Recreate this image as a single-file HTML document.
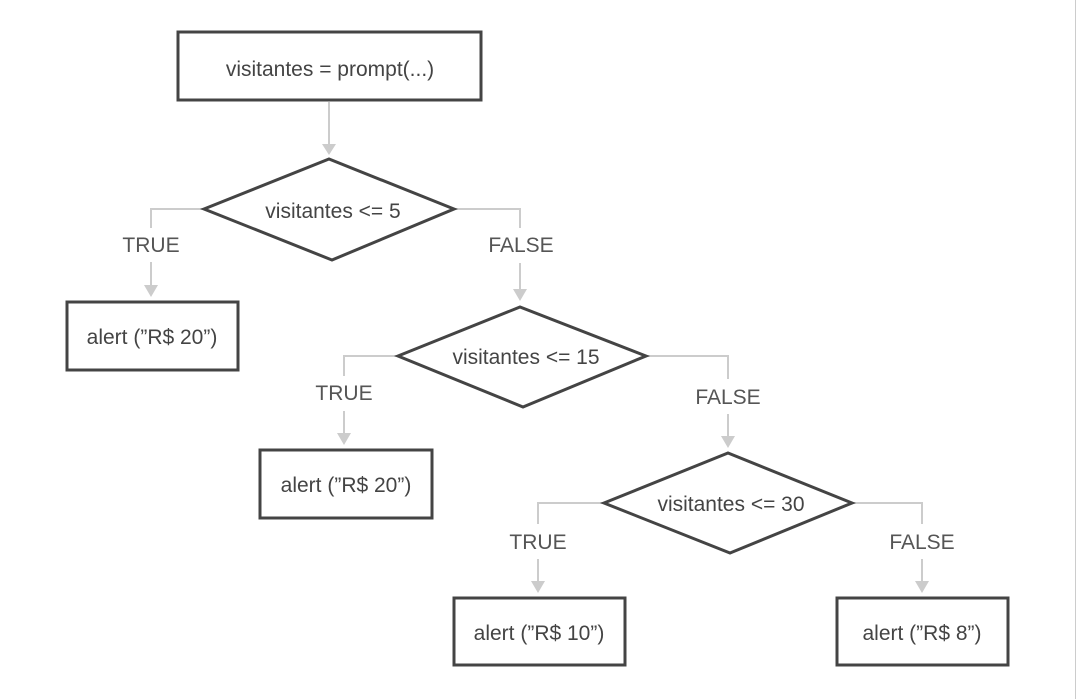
<!DOCTYPE html>
<html><head><style>body{margin:0;background:#fff}svg{display:block}</style></head><body>
<svg width="1077" height="699" xmlns="http://www.w3.org/2000/svg" font-family="Liberation Sans, sans-serif">
<line x1="1075.5" y1="0" x2="1075.5" y2="699" stroke="#ccc" stroke-width="1"/>
<g stroke="#ccc" stroke-width="2" fill="none">
<path d="M329 102V145"/>
<path d="M204 209H151V228M151 262V286"/>
<path d="M454 209H520V228M520 263V290"/>
<path d="M398 356H344V376M344 411V434"/>
<path d="M646 356H728V379M728 414V437"/>
<path d="M604 503H538V524M538 559V582"/>
<path d="M852 503H922V524M922 559V582"/>
</g>
<g fill="#ccc">
<path d="M322 144L336 144L329 155Z"/>
<path d="M144 285L158 285L151 297Z"/>
<path d="M513 289L527 289L520 301Z"/>
<path d="M337 433L351 433L344 445Z"/>
<path d="M721 436L735 436L728 448Z"/>
<path d="M531 581L545 581L538 593Z"/>
<path d="M915 581L929 581L922 593Z"/>
</g>
<g stroke="#444" stroke-width="3" fill="#fff">
<rect x="178" y="32" width="303" height="68"/>
<path d="M204 209L329 159L454 209L332 260Z"/>
<rect x="67" y="302" width="171" height="68"/>
<path d="M398 356L520 307L646 356L523 407Z"/>
<rect x="260" y="450" width="172" height="68"/>
<path d="M604 503L728 453L852 503L730 553Z"/>
<rect x="454" y="598" width="171" height="67"/>
<rect x="837" y="598" width="171" height="67"/>
</g>
<g fill="#444" font-size="21" text-anchor="middle">
<text x="330" y="76">visitantes = prompt(...)</text>
<text x="333" y="218">visitantes &lt;= 5</text>
<text x="152" y="344">alert (”R$ 20”)</text>
<text x="526" y="364">visitantes &lt;= 15</text>
<text x="346" y="492">alert (”R$ 20”)</text>
<text x="731" y="511">visitantes &lt;= 30</text>
<text x="539" y="640">alert (”R$ 10”)</text>
<text x="922" y="640">alert (”R$ 8”)</text>
</g>
<g fill="#555" font-size="21" text-anchor="middle">
<text x="151" y="252">TRUE</text>
<text x="521" y="252">FALSE</text>
<text x="344" y="400">TRUE</text>
<text x="728" y="404">FALSE</text>
<text x="538" y="549">TRUE</text>
<text x="922" y="549">FALSE</text>
</g>
</svg>
</body></html>
